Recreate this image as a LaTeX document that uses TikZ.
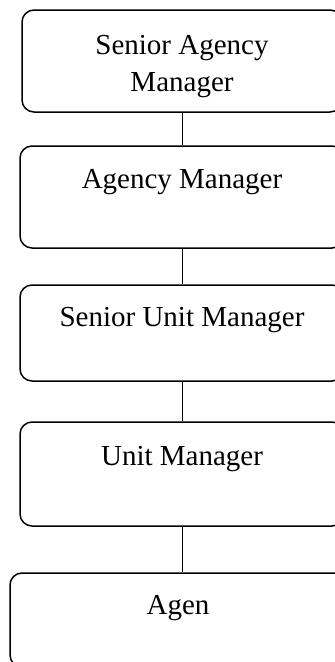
\documentclass[tikz,border=0pt]{standalone}
\usepackage{fontspec}
\setmainfont{Liberation Serif}
\usepackage{tikz}

\tikzset{
  rolebox/.style={draw, line width=1.5pt, rounded corners=12pt, align=center,
    inner sep=0pt, font=\fontsize{29pt}{37pt}\selectfont},
  link/.style={line width=1pt}
}

\begin{document}
\begin{tikzpicture}[x=1pt, y=-1pt]

	% frame of the picture
\clip (0, 0) rectangle (335, 662);

	% senior agency manager
\node [rolebox, minimum width=320pt, minimum height=102pt, text height=66pt, text depth=6pt] (sam) at (182, 61) {Senior Agency\\Manager};

	% agency manager
\node [rolebox, minimum width=324pt, minimum height=102pt, text height=20pt, text depth=38pt] (am) at (182, 197) {Agency Manager};

	% senior unit manager
\node [rolebox, minimum width=324pt, minimum height=96pt, text height=20pt, text depth=34pt] (sum) at (182, 333) {Senior Unit Manager};

	% unit manager
\node [rolebox, minimum width=324pt, minimum height=104pt, text height=20pt, text depth=38pt] (um) at (182, 474) {Unit Manager};

	% agen
\node [rolebox, minimum width=336pt, minimum height=94pt, text height=20pt, text depth=32pt] (ag) at (178, 620) {Agen};

	% lines between the levels
\draw [link] (sam.south) -- (am.north);
\draw [link] (am.south) -- (sum.north);
\draw [link] (sum.south) -- (um.north);
\draw [link] (um.south) -- (um.south |- ag.north);

\end{tikzpicture}
\end{document}
